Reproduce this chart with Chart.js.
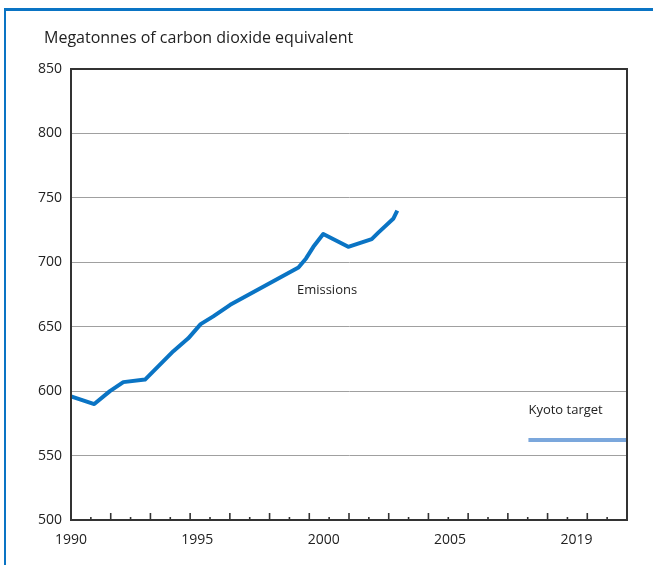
<!DOCTYPE html>
<html>
<head>
<meta charset="utf-8">
<script src="https://cdn.jsdelivr.net/npm/chart.js@4/dist/chart.umd.min.js"></script>
<style>
  html, body { margin: 0; padding: 0; background: #fff; }
  #wrap { position: relative; width: 653px; height: 565px; overflow: hidden; }
  #frame { position: absolute; left: 4px; top: 8px; right: -5px; bottom: -5px;
           border-left: 2px solid #0a74c4; border-top: 3px solid #0a74c4; }
  #myChart { position: absolute; left: 0; top: 0; }
</style>
</head>
<body>
<div id="wrap">
  <div id="frame"></div>
  <canvas id="myChart" width="653" height="565"></canvas>
</div>
<script>
// Data

const emissionYears = [1990, 1990.92, 1991.54, 1992.07, 1992.93, 1994.05, 1994.64, 1995.13, 1995.63,
                       1996.3, 1999.0, 1999.3, 1999.59, 1999.98, 2000.97, 2001.9, 2002.16, 2002.76, 2002.91];
const emissionValues = [596, 590, 600, 607, 609, 631, 641, 652, 658,
                        667, 696, 703, 712, 722, 712, 718, 723, 734, 740];

const kyotoYears = [2008.1, 2012];
const kyotoValue = 562;

const xTickYears = [1990, 1995, 2000, 2005, 2010];
const xTickLabels = ['1990', '1995', '2000', '2005', '2019'];

const yMin = 500;
const yMax = 850;
const yStep = 50;

const titleText = 'Megatonnes of carbon dioxide equivalent';
const notes = [
  {text: 'Emissions', x: 1998.94, y: 678},
  {text: 'Kyoto target', x: 2008.1, y: 585},
];

const FONT = "'Open Sans', 'Noto Sans', sans-serif";

// small tick marks along the bottom edge, alternating short and long
const bottomTicks = {
  id: 'bottomTicks',
  afterDatasetsDraw(chart) {
    const {ctx, chartArea, scales} = chart;
    const x = scales.x;
    const n = 28;
    const span = x.max - x.min;
    ctx.save();
    ctx.strokeStyle = '#333';
    ctx.lineWidth = 1.6;
    for (let k = 1; k < n; k++) {
      const px = x.getPixelForValue(x.min + k * span / n);
      const len = (k % 2 === 0) ? 7 : 3;
      ctx.beginPath();
      ctx.moveTo(px, chartArea.bottom);
      ctx.lineTo(px, chartArea.bottom - len);
      ctx.stroke();
    }
    // box round the plot
    ctx.lineWidth = 2;
    ctx.strokeRect(chartArea.left, chartArea.top, chartArea.right - chartArea.left, chartArea.bottom - chartArea.top);
    ctx.restore();
  }
};

// title and notes
const textLayer = {
  id: 'textLayer',
  afterDraw(chart) {
    const {ctx, scales} = chart;
    ctx.save();
    ctx.fillStyle = '#222';
    ctx.textBaseline = 'middle';
    ctx.textAlign = 'left';
    ctx.font = '16px ' + FONT;
    ctx.fillText(titleText, 44, 38);
    ctx.font = '13px ' + FONT;
    notes.forEach(n => {
      ctx.fillText(n.text, scales.x.getPixelForValue(n.x), scales.y.getPixelForValue(n.y));
    });
    ctx.restore();
  }
};

const data = {
  datasets: [
    {
      label: 'Emissions',
      data: emissionYears.map((yr, i) => ({x: yr, y: emissionValues[i]})),
      borderColor: '#0a74c4',
      borderWidth: 4,
      pointRadius: 0,
      tension: 0,
      borderJoinStyle: 'round',
    },
    {
      label: 'Kyoto target',
      data: kyotoYears.map(yr => ({x: yr, y: kyotoValue})),
      borderColor: '#7ba7dc',
      borderWidth: 4,
      pointRadius: 0,
    },
  ]
};

const config = {
  type: 'line',
  data: data,
  options: {
    responsive: false,
    animation: false,
    layout: {padding: {left: 0, top: 69, right: 26, bottom: 0}},
    plugins: {
      legend: {display: false},
      tooltip: {enabled: false},
    },
    scales: {
      x: {
        type: 'linear',
        min: 1990,
        max: 2012,
        afterBuildTicks: axis => { axis.ticks = xTickYears.map(v => ({value: v})); },
        afterFit: axis => { axis.height = 45; },
        ticks: {
          callback: v => xTickLabels[xTickYears.indexOf(v)],
          font: {size: 14, family: FONT},
          color: '#222',
          padding: 12,
          maxRotation: 0,
          autoSkip: false,
        },
        grid: {display: false, drawTicks: false},
        border: {display: true, color: '#333', width: 2},
      },
      y: {
        min: yMin,
        max: yMax,
        afterFit: axis => { axis.width = 71; },
        ticks: {
          stepSize: yStep,
          font: {size: 14, family: FONT},
          color: '#222',
          padding: 9,
        },
        grid: {color: '#a0a0a0', lineWidth: 1, drawTicks: false},
        border: {display: true, color: '#333', width: 2},
      }
    }
  },
  plugins: [bottomTicks, textLayer],
};

const myChart = new Chart(document.getElementById('myChart'), config);
</script>
</body>
</html>
